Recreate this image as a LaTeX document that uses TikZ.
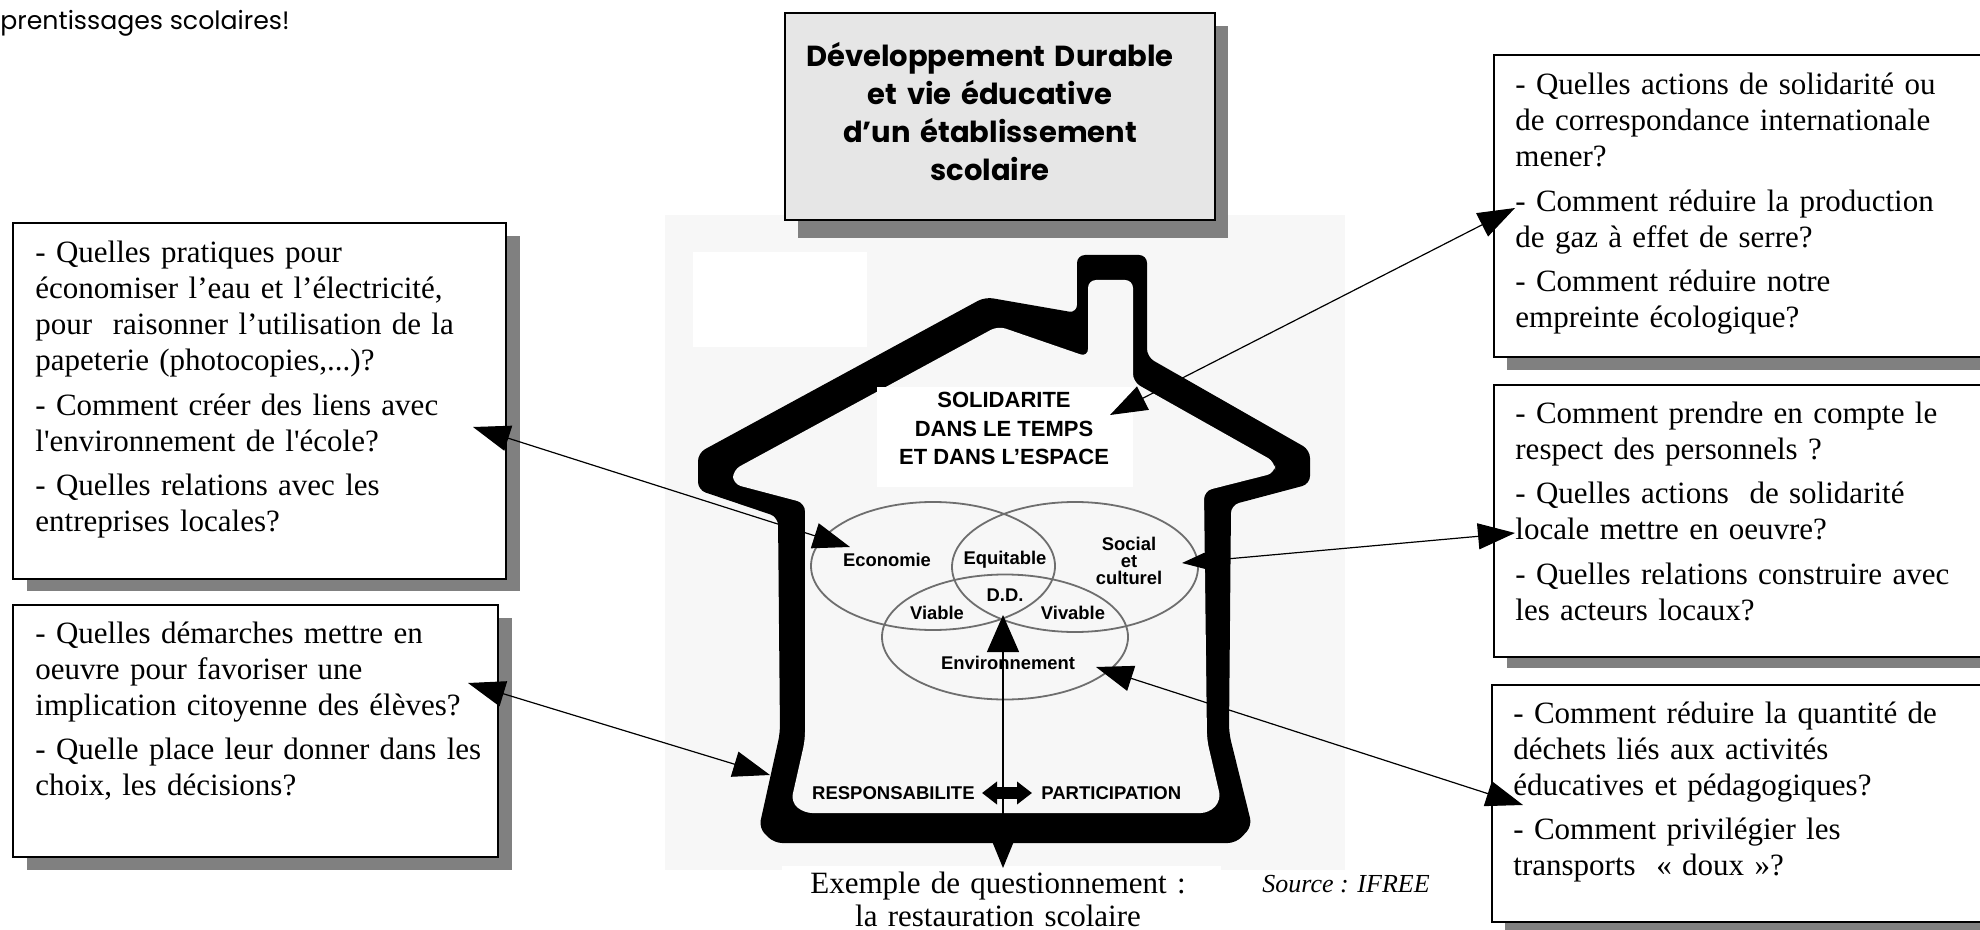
\documentclass[tikz,border=0pt]{standalone}
\usepackage{fontspec}
\setmainfont{Liberation Serif}
\newfontfamily\tnr{Liberation Serif}
\newfontfamily\arl{Liberation Sans}
\newfontfamily\comic{Poppins}
\usetikzlibrary{arrows.meta,shapes.geometric}
\definecolor{shadowgray}{HTML}{808080}
\definecolor{titlefill}{HTML}{E6E6E6}
\definecolor{imgbg}{HTML}{F7F7F7}
\definecolor{venngray}{HTML}{6E6E6E}
\begin{document}
\begin{tikzpicture}[x=0.5pt,y=-0.5pt,
  shadowbox/.style={fill=shadowgray},
  qbox/.style={draw=black, line width=0.6pt, fill=white},
  qtext/.style={anchor=base west, inner sep=0pt, align=left, text width=245pt,
    font=\tnr\fontsize{15.5}{18}\selectfont},
  link/.style={line width=0.6pt,
    {Triangle[length=18.5pt,width=13pt]}-{Triangle[length=18.5pt,width=13pt]}},
  venn/.style={ellipse, draw=venngray, line width=0.9pt, inner sep=0pt},
  vlabel/.style={font=\arl\bfseries\fontsize{9.2}{8.7}\selectfont, align=center, inner sep=0pt},
  caps/.style={font=\arl\bfseries\fontsize{9.25}{11}\selectfont, inner sep=0pt}
]
\useasboundingbox (0,0) rectangle (1980,930);
\clip (0,0) rectangle (1980,930);

% top-left text fragment
\node[anchor=base west, inner sep=0pt, font=\comic\fontsize{12.6}{14}\selectfont] (frag) at (0,30) {prentissages scolaires!};

% ---------- house picture ----------
\fill[imgbg] (665,215) rectangle (1345,870);
\fill[white] (693,252) rectangle (867,347);
\fill[black, rounded corners=4pt] (698,490) -- (698,453) -- (985,297) -- (1077,313) -- (1077,255) -- (1147,255) -- (1147,357) -- (1310,450) -- (1310,484) -- (1231,505) -- (1229,733) -- (1252,826) -- (1236,843) -- (774,843) -- (759,828) -- (780,733) -- (778,517) -- cycle;
\fill[imgbg, rounded corners=4pt] (733,484) -- (733,470) -- (998,326) -- (1088,357) -- (1088,280) -- (1133,280) -- (1133,382) -- (1275,462) -- (1275,473) -- (1204,491) -- (1207,740) -- (1221,800) -- (1209,813) -- (804,813) -- (791,802) -- (805,740) -- (805,503) -- cycle;
\fill[white] (877,387) rectangle (1133,487);
\fill[white] (782,866) rectangle (1221,930);

\node[font=\arl\bfseries\fontsize{11}{14.25}\selectfont, align=center, inner sep=0pt] (sol) at (1004,428.5) {SOLIDARITE\\DANS LE TEMPS\\ET DANS L’ESPACE};

\node[venn, minimum width=122pt, minimum height=64pt] (veco) at (933,566) {};
\node[venn, minimum width=123pt, minimum height=65pt] (vsoc) at (1075,567) {};
\node[venn, minimum width=123pt, minimum height=62.5pt] (venv) at (1005,637) {};

\node[vlabel] (eco) at (887,560) {Economie};
\node[vlabel] (equ) at (1005,560) {Equitable};
\node[vlabel] (soc) at (1129,561) {Social\\et\\culturel};
\node[vlabel] (dd) at (1005,595) {D.D.};
\node[vlabel] (via) at (937,613) {Viable};
\node[vlabel] (viv) at (1073,613) {Vivable};
\node[vlabel] (env) at (1008,663) {Environnement};

\node[caps, anchor=east] (resp) at (975,793) {RESPONSABILITE};
\node[caps, anchor=west] (part) at (1041,793) {PARTICIPATION};
\draw[line width=6pt, shorten <=3.5pt, shorten >=4.5pt,
  {Triangle[length=7.5pt 0 0,width=11pt 0 0]}-{Triangle[length=7.5pt 0 0,width=11pt 0 0]}] (resp.east) -- (part.west);

\node[anchor=base, inner sep=0pt, text width=230pt, align=center, font=\tnr\fontsize{15.5}{16.5}\selectfont] (ex) at (998,893) {Exemple de questionnement :\\la restauration scolaire};
\node[anchor=base west, inner sep=0pt, font=\tnr\itshape\fontsize{13}{15}\selectfont] (src) at (1262,892) {Source : IFREE};

% ---------- title box ----------
\fill[shadowbox] (798,26) rectangle (1228,238);
\draw[qbox, fill=titlefill] (785,13) rectangle (1215,220);
\node[anchor=base, inner sep=0pt, text width=215pt, align=center, font=\comic\bfseries\fontsize{14.5}{18.85}\selectfont] (title) at (990,67) {Développement Durable\\et vie éducative\\d’un établissement\\scolaire};

% ---------- left boxes ----------
\fill[shadowbox] (27,236) rectangle (520,591);
\draw[qbox] (13,223) rectangle (506,579);
\node[qtext] (l1) at (35,263) {- Quelles pratiques pour\\économiser l’eau et l’électricité,\\pour\ \ raisonner l’utilisation de la\\papeterie (photocopies,...)?\\[4.25pt]- Comment créer des liens avec\\l'environnement de l'école?\\[4.25pt]- Quelles relations avec les\\entreprises locales?};

\fill[shadowbox] (27,618) rectangle (512,870);
\draw[qbox] (13,605) rectangle (498,857);
\node[qtext] (l2) at (35,643) {- Quelles démarches mettre en\\oeuvre pour favoriser une\\implication citoyenne des élèves?\\[4.25pt]- Quelle place leur donner dans les\\choix, les décisions?};

% ---------- right boxes ----------
\fill[shadowbox] (1507,68) rectangle (2013,370);
\draw[qbox] (1494,55) rectangle (2000,357);
\node[qtext] (r1) at (1515,95) {- Quelles actions de solidarité ou\\de correspondance internationale\\mener?\\[4.25pt]- Comment réduire la production\\de gaz à effet de serre?\\[4.25pt]- Comment réduire notre\\empreinte écologique?};

\fill[shadowbox] (1507,397) rectangle (2013,668);
\draw[qbox] (1494,385) rectangle (2000,657);
\node[qtext] (r2) at (1515,423) {- Comment prendre en compte le\\respect des personnels ?\\[4.25pt]- Quelles actions\ \ de solidarité\\locale mettre en oeuvre?\\[4.25pt]- Quelles relations construire avec\\les acteurs locaux?};

\fill[shadowbox] (1505,698) rectangle (2013,940);
\draw[qbox] (1492,685) rectangle (2000,922);
\node[qtext] (r3) at (1513,723) {- Comment réduire la quantité de\\déchets liés aux activités\\éducatives et pédagogiques?\\[4.25pt]- Comment privilégier les\\transports\ \ « doux »?};

% ---------- connectors ----------
\coordinate (l1tip) at (473,427);
\coordinate (ecotip) at (850,547);
\coordinate (l2tip) at (468,683);
\coordinate (walltip) at (770,775);
\coordinate (r1tip) at (1515,208);
\coordinate (soltip) at (1110,415);
\coordinate (r2tip) at (1515,533);
\coordinate (soctip) at (1182,563);
\coordinate (r3tip) at (1523,805);
\coordinate (envtip) at (1096,667);
\coordinate (extip) at (1003,868);
\coordinate (ddtip) at (1003,615);

\draw[link] (l1tip) -- (ecotip);
\draw[link] (l2tip) -- (walltip);
\draw[link] (r1tip) -- (soltip);
\draw[link] (r2tip) -- (soctip);
\draw[link] (r3tip) -- (envtip);
\draw[line width=0.6pt, {Triangle[length=18.5pt,width=15pt]}-{Triangle[length=18.5pt,width=16pt]}] (extip) -- (ddtip);
\end{tikzpicture}
\end{document}
